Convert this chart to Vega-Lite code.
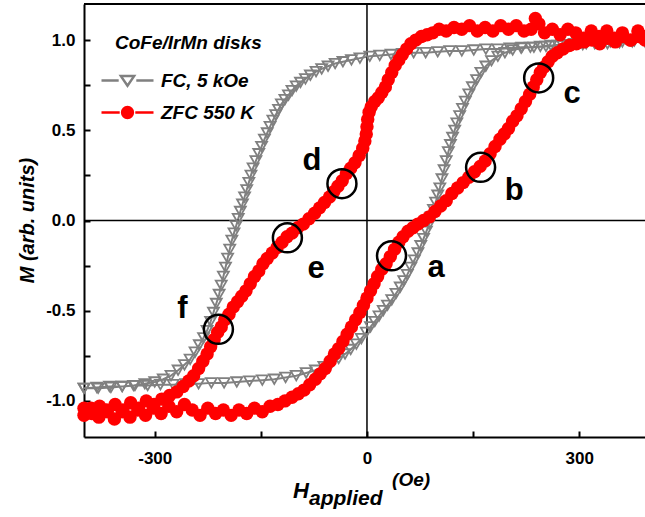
{
  "$schema": "https://vega.github.io/schema/vega-lite/v6.json",
  "width": 561,
  "height": 433,
  "autosize": "none",
  "padding": {"left": 84, "top": 4, "right": 0, "bottom": 80},
  "background": "white",
  "config": {"view": {"stroke": null}, "font": "Liberation Sans"},
  "datasets": {
    "fc": [
      {"H":393,"M":0.99},{"H":375,"M":0.99},{"H":357,"M":0.985},{"H":340,"M":0.98},{"H":322,"M":0.98},{"H":305,"M":0.975},{"H":288,"M":0.97},{"H":270,"M":0.97},{"H":253,"M":0.965},{"H":236,"M":0.96},{"H":219,"M":0.96},{"H":202,"M":0.955},{"H":185,"M":0.95},{"H":168,"M":0.95},{"H":151,"M":0.945},{"H":134,"M":0.94},{"H":117,"M":0.94},{"H":100,"M":0.935},{"H":83,"M":0.93},{"H":66,"M":0.93},{"H":50,"M":0.925},{"H":34,"M":0.92},{"H":18,"M":0.915},{"H":4,"M":0.91},{"H":-10,"M":0.9},{"H":-22,"M":0.89},{"H":-34,"M":0.88},{"H":-45,"M":0.87},{"H":-55,"M":0.855},{"H":-64,"M":0.84},{"H":-72,"M":0.825},{"H":-80,"M":0.805},{"H":-87,"M":0.785},{"H":-94,"M":0.765},{"H":-100,"M":0.745},{"H":-106,"M":0.72},{"H":-111,"M":0.695},{"H":-116,"M":0.67},{"H":-121,"M":0.645},{"H":-125,"M":0.615},{"H":-129,"M":0.585},{"H":-133,"M":0.555},{"H":-137,"M":0.52},{"H":-141,"M":0.485},{"H":-145,"M":0.45},{"H":-149,"M":0.41},{"H":-153,"M":0.37},{"H":-157,"M":0.33},{"H":-161,"M":0.29},{"H":-164,"M":0.25},{"H":-167,"M":0.21},{"H":-170,"M":0.17},{"H":-173,"M":0.13},{"H":-176,"M":0.09},{"H":-179,"M":0.05},{"H":-182,"M":0.01},{"H":-185,"M":-0.03},{"H":-188,"M":-0.07},{"H":-191,"M":-0.11},{"H":-194,"M":-0.16},{"H":-197,"M":-0.21},{"H":-200,"M":-0.26},{"H":-203,"M":-0.31},{"H":-206,"M":-0.36},{"H":-209,"M":-0.41},{"H":-213,"M":-0.46},{"H":-217,"M":-0.51},{"H":-221,"M":-0.56},{"H":-226,"M":-0.61},{"H":-231,"M":-0.65},{"H":-237,"M":-0.69},{"H":-243,"M":-0.73},{"H":-250,"M":-0.77},{"H":-258,"M":-0.8},{"H":-267,"M":-0.83},{"H":-277,"M":-0.86},{"H":-288,"M":-0.88},{"H":-300,"M":-0.895},{"H":-314,"M":-0.905},{"H":-330,"M":-0.915},{"H":-346,"M":-0.92},{"H":-362,"M":-0.925},{"H":-380,"M":-0.93},{"H":-400,"M":-0.93},
      {"H":-400,"M":-0.93},{"H":-382,"M":-0.925},{"H":-364,"M":-0.92},{"H":-346,"M":-0.92},{"H":-328,"M":-0.915},{"H":-310,"M":-0.915},{"H":-292,"M":-0.91},{"H":-274,"M":-0.91},{"H":-256,"M":-0.905},{"H":-238,"M":-0.905},{"H":-220,"M":-0.9},{"H":-202,"M":-0.9},{"H":-184,"M":-0.895},{"H":-166,"M":-0.89},{"H":-148,"M":-0.885},{"H":-131,"M":-0.88},{"H":-115,"M":-0.87},{"H":-100,"M":-0.86},{"H":-86,"M":-0.845},{"H":-73,"M":-0.83},{"H":-61,"M":-0.81},{"H":-50,"M":-0.79},{"H":-40,"M":-0.765},{"H":-31,"M":-0.74},{"H":-23,"M":-0.715},{"H":-15,"M":-0.685},{"H":-8,"M":-0.655},{"H":-1,"M":-0.62},{"H":5,"M":-0.59},{"H":11,"M":-0.56},{"H":17,"M":-0.53},{"H":23,"M":-0.5},{"H":29,"M":-0.47},{"H":35,"M":-0.44},{"H":41,"M":-0.405},{"H":47,"M":-0.37},{"H":52,"M":-0.335},{"H":57,"M":-0.3},{"H":62,"M":-0.26},{"H":67,"M":-0.22},{"H":72,"M":-0.18},{"H":76,"M":-0.14},{"H":80,"M":-0.1},{"H":84,"M":-0.06},{"H":88,"M":-0.02},{"H":91,"M":0.02},{"H":94,"M":0.06},{"H":97,"M":0.1},{"H":100,"M":0.14},{"H":103,"M":0.18},{"H":106,"M":0.23},{"H":109,"M":0.28},{"H":112,"M":0.33},{"H":115,"M":0.38},{"H":118,"M":0.42},{"H":121,"M":0.46},{"H":124,"M":0.5},{"H":127,"M":0.54},{"H":131,"M":0.58},{"H":135,"M":0.62},{"H":139,"M":0.66},{"H":144,"M":0.7},{"H":149,"M":0.74},{"H":155,"M":0.78},{"H":161,"M":0.82},{"H":168,"M":0.855},{"H":176,"M":0.885},{"H":185,"M":0.91},{"H":195,"M":0.93},{"H":206,"M":0.945},{"H":218,"M":0.955},{"H":231,"M":0.96},{"H":245,"M":0.965},{"H":260,"M":0.97},{"H":276,"M":0.975},{"H":293,"M":0.98},{"H":310,"M":0.98},{"H":327,"M":0.985},{"H":344,"M":0.99},{"H":361,"M":0.99},{"H":378,"M":0.995},{"H":393,"M":0.995}
    ],
    "zfc": [
      {"H":393,"M":1.02},{"H":383,"M":1.05},{"H":372,"M":1.0},{"H":361,"M":1.04},{"H":350,"M":1.01},{"H":339,"M":1.05},{"H":328,"M":1.02},{"H":317,"M":1.05},{"H":306,"M":1.01},{"H":295,"M":1.04},{"H":284,"M":1.06},{"H":273,"M":1.03},{"H":262,"M":1.06},{"H":251,"M":1.04},{"H":243,"M":1.09},{"H":238,"M":1.12},{"H":232,"M":1.06},{"H":222,"M":1.05},{"H":211,"M":1.08},{"H":200,"M":1.06},{"H":189,"M":1.08},{"H":178,"M":1.05},{"H":167,"M":1.07},{"H":156,"M":1.05},{"H":145,"M":1.08},{"H":134,"M":1.06},{"H":123,"M":1.07},{"H":112,"M":1.05},{"H":102,"M":1.06},{"H":93,"M":1.04},{"H":85,"M":1.03},{"H":77,"M":1.02},{"H":69,"M":1.0},{"H":62,"M":0.98},{"H":56,"M":0.95},{"H":50,"M":0.92},{"H":45,"M":0.89},{"H":40,"M":0.86},{"H":35,"M":0.82},{"H":30,"M":0.78},{"H":26,"M":0.74},{"H":21,"M":0.71},{"H":16,"M":0.68},{"H":11,"M":0.66},{"H":6,"M":0.63},{"H":3,"M":0.6},{"H":1,"M":0.56},{"H":0,"M":0.52},{"H":-1,"M":0.48},{"H":-3,"M":0.44},{"H":-6,"M":0.4},{"H":-11,"M":0.36},{"H":-17,"M":0.32},{"H":-23,"M":0.29},{"H":-29,"M":0.26},{"H":-35,"M":0.22},{"H":-41,"M":0.19},{"H":-47,"M":0.16},{"H":-53,"M":0.13},{"H":-60,"M":0.1},{"H":-67,"M":0.07},{"H":-74,"M":0.04},{"H":-82,"M":0.01},{"H":-90,"M":-0.02},{"H":-98,"M":-0.04},{"H":-106,"M":-0.07},{"H":-113,"M":-0.09},{"H":-120,"M":-0.12},{"H":-127,"M":-0.15},{"H":-134,"M":-0.18},{"H":-141,"M":-0.21},{"H":-147,"M":-0.24},{"H":-153,"M":-0.28},{"H":-159,"M":-0.31},{"H":-165,"M":-0.35},{"H":-171,"M":-0.39},{"H":-177,"M":-0.42},{"H":-183,"M":-0.45},{"H":-189,"M":-0.48},{"H":-195,"M":-0.52},{"H":-201,"M":-0.55},{"H":-206,"M":-0.59},{"H":-211,"M":-0.62},{"H":-216,"M":-0.66},{"H":-221,"M":-0.7},{"H":-226,"M":-0.74},{"H":-232,"M":-0.78},{"H":-238,"M":-0.82},{"H":-245,"M":-0.86},{"H":-252,"M":-0.89},{"H":-260,"M":-0.92},{"H":-269,"M":-0.95},{"H":-279,"M":-0.97},{"H":-290,"M":-0.99},{"H":-301,"M":-1.02},{"H":-312,"M":-1.0},{"H":-323,"M":-1.04},{"H":-334,"M":-1.01},{"H":-345,"M":-1.05},{"H":-356,"M":-1.02},{"H":-367,"M":-1.06},{"H":-378,"M":-1.03},{"H":-389,"M":-1.07},{"H":-400,"M":-1.04},
      {"H":-400,"M":-1.08},{"H":-390,"M":-1.04},{"H":-379,"M":-1.09},{"H":-368,"M":-1.05},{"H":-357,"M":-1.1},{"H":-346,"M":-1.06},{"H":-335,"M":-1.09},{"H":-324,"M":-1.05},{"H":-313,"M":-1.08},{"H":-302,"M":-1.04},{"H":-291,"M":-1.07},{"H":-280,"M":-1.03},{"H":-269,"M":-1.06},{"H":-258,"M":-1.02},{"H":-247,"M":-1.05},{"H":-236,"M":-1.08},{"H":-225,"M":-1.04},{"H":-214,"M":-1.07},{"H":-203,"M":-1.05},{"H":-192,"M":-1.08},{"H":-181,"M":-1.05},{"H":-170,"M":-1.07},{"H":-159,"M":-1.04},{"H":-148,"M":-1.06},{"H":-137,"M":-1.03},{"H":-126,"M":-1.02},{"H":-116,"M":-1.0},{"H":-106,"M":-0.98},{"H":-97,"M":-0.96},{"H":-89,"M":-0.94},{"H":-81,"M":-0.91},{"H":-73,"M":-0.88},{"H":-66,"M":-0.85},{"H":-59,"M":-0.82},{"H":-52,"M":-0.78},{"H":-46,"M":-0.74},{"H":-40,"M":-0.71},{"H":-34,"M":-0.67},{"H":-28,"M":-0.63},{"H":-22,"M":-0.59},{"H":-16,"M":-0.55},{"H":-10,"M":-0.51},{"H":-5,"M":-0.47},{"H":0,"M":-0.43},{"H":5,"M":-0.39},{"H":10,"M":-0.35},{"H":15,"M":-0.31},{"H":21,"M":-0.27},{"H":27,"M":-0.24},{"H":33,"M":-0.2},{"H":39,"M":-0.16},{"H":45,"M":-0.12},{"H":51,"M":-0.09},{"H":58,"M":-0.06},{"H":65,"M":-0.04},{"H":72,"M":-0.02},{"H":80,"M":0.0},{"H":88,"M":0.02},{"H":96,"M":0.05},{"H":104,"M":0.08},{"H":112,"M":0.11},{"H":120,"M":0.15},{"H":128,"M":0.18},{"H":136,"M":0.21},{"H":144,"M":0.24},{"H":152,"M":0.27},{"H":160,"M":0.3},{"H":167,"M":0.33},{"H":174,"M":0.37},{"H":181,"M":0.41},{"H":188,"M":0.45},{"H":194,"M":0.48},{"H":200,"M":0.51},{"H":206,"M":0.55},{"H":212,"M":0.58},{"H":218,"M":0.62},{"H":224,"M":0.66},{"H":230,"M":0.7},{"H":235,"M":0.74},{"H":240,"M":0.78},{"H":245,"M":0.82},{"H":250,"M":0.85},{"H":256,"M":0.88},{"H":262,"M":0.91},{"H":269,"M":0.93},{"H":277,"M":0.95},{"H":286,"M":0.97},{"H":296,"M":0.98},{"H":307,"M":0.99},{"H":318,"M":1.0},{"H":329,"M":0.98},{"H":340,"M":1.01},{"H":351,"M":0.99},{"H":362,"M":1.02},{"H":373,"M":1.0},{"H":384,"M":1.02},{"H":393,"M":1.0}
    ],
    "ann": [
      {"k":"a","H":34.7,"M":-0.196,"tx":97.6,"ty":-0.312},
      {"k":"b","H":160.6,"M":0.295,"tx":208,"ty":0.115},
      {"k":"c","H":242.7,"M":0.79,"tx":290,"ty":0.653},
      {"k":"d","H":-35.4,"M":0.204,"tx":-77.8,"ty":0.28},
      {"k":"e","H":-112.5,"M":-0.096,"tx":-72,"ty":-0.318},
      {"k":"f","H":-210,"M":-0.603,"tx":-261,"ty":-0.54}
    ],
    "one": [{}]
  },
  "layer": [
    {
      "data": {"name": "fc"},
      "mark": {"type": "line", "color": "#808080", "strokeWidth": 2},
      "encoding": {
        "x": {"field": "H", "type": "quantitative",
          "scale": {"domain": [-400, 393], "nice": false, "zero": false},
          "axis": {"title": null, "values": [-300, -150, 0, 150, 300],
            "labelExpr": "datum.value % 300 === 0 ? replace(format(datum.value, 'd'), '\u2212', '-') : ''",
            "domain": true, "domainColor": "black", "domainWidth": 2,
            "ticks": true, "tickColor": "black", "tickWidth": 2, "tickSize": -6,
            "labelPadding": 19, "labelFont": "Liberation Sans", "labelFontSize": 17, "labelFontWeight": "bold",
            "labelColor": "black", "labelOverlap": false, "labelFlush": false, "grid": false}},
        "y": {"field": "M", "type": "quantitative",
          "scale": {"domain": [-1.2, 1.2], "nice": false, "zero": false},
          "axis": {"title": "M (arb. units)", "values": [-1, -0.75, -0.5, -0.25, 0, 0.25, 0.5, 0.75, 1],
            "labelExpr": "abs(datum.value * 2 - round(datum.value * 2)) < 0.001 ? replace(format(datum.value, '.1f'), '\u2212', '-') : ''",
            "domain": true, "domainColor": "black", "domainWidth": 2,
            "ticks": true, "tickColor": "black", "tickWidth": 2, "tickSize": -6,
            "labelPadding": 15, "labelFont": "Liberation Sans", "labelFontSize": 17, "labelFontWeight": "bold",
            "labelColor": "black", "labelOverlap": false, "labelFlush": false, "grid": false,
            "titleFont": "Liberation Sans", "titleFontSize": 20, "titleFontWeight": "bold", "titleFontStyle": "italic",
            "titleColor": "black", "titleX": -51, "titleY": 216, "titleAngle": -90, "titleAlign": "center", "titleBaseline": "alphabetic"}},
        "order": {"value": null}
      }
    },
    {
      "data": {"name": "one"},
      "mark": {"type": "rule", "color": "black", "strokeWidth": 2},
      "encoding": {"y": {"datum": 1.2, "scale": {"domain": [-1.2, 1.2], "nice": false, "zero": false}}}
    },
    {
      "data": {"name": "one"},
      "mark": {"type": "rule", "color": "black", "strokeWidth": 1.5},
      "encoding": {"y": {"datum": 0, "scale": {"domain": [-1.2, 1.2], "nice": false, "zero": false}}}
    },
    {
      "data": {"name": "one"},
      "mark": {"type": "rule", "color": "black", "strokeWidth": 1.5},
      "encoding": {"x": {"datum": 0, "scale": {"domain": [-400, 393], "nice": false, "zero": false}}}
    },
    {
      "data": {"name": "fc"},
      "mark": {"type": "point", "shape": "triangle-down", "filled": false, "stroke": "#808080", "strokeWidth": 1.8, "size": 120, "opacity": 1},
      "encoding": {
        "x": {"field": "H", "type": "quantitative", "scale": {"domain": [-400, 393], "nice": false, "zero": false}},
        "y": {"field": "M", "type": "quantitative", "scale": {"domain": [-1.2, 1.2], "nice": false, "zero": false}}
      }
    },
    {
      "data": {"name": "zfc"},
      "mark": {"type": "line", "color": "#ff0000", "strokeWidth": 4},
      "encoding": {
        "x": {"field": "H", "type": "quantitative", "scale": {"domain": [-400, 393], "nice": false, "zero": false}},
        "y": {"field": "M", "type": "quantitative", "scale": {"domain": [-1.2, 1.2], "nice": false, "zero": false}},
        "order": {"value": null}
      }
    },
    {
      "data": {"name": "zfc"},
      "mark": {"type": "point", "shape": "circle", "filled": true, "color": "#ff0000", "size": 180, "opacity": 1},
      "encoding": {
        "x": {"field": "H", "type": "quantitative", "scale": {"domain": [-400, 393], "nice": false, "zero": false}},
        "y": {"field": "M", "type": "quantitative", "scale": {"domain": [-1.2, 1.2], "nice": false, "zero": false}}
      }
    },
    {
      "data": {"name": "ann"},
      "mark": {"type": "point", "shape": "circle", "filled": false, "stroke": "black", "strokeWidth": 2.5, "size": 841, "opacity": 1},
      "encoding": {
        "x": {"field": "H", "type": "quantitative", "scale": {"domain": [-400, 393], "nice": false, "zero": false}},
        "y": {"field": "M", "type": "quantitative", "scale": {"domain": [-1.2, 1.2], "nice": false, "zero": false}}
      }
    },
    {
      "data": {"name": "ann"},
      "mark": {"type": "text", "font": "Liberation Sans", "fontSize": 31, "fontWeight": "bold", "color": "black", "align": "center", "baseline": "alphabetic"},
      "encoding": {
        "x": {"field": "tx", "type": "quantitative", "scale": {"domain": [-400, 393], "nice": false, "zero": false}},
        "y": {"field": "ty", "type": "quantitative", "scale": {"domain": [-1.2, 1.2], "nice": false, "zero": false}},
        "text": {"field": "k"}
      }
    },
    {
      "data": {"name": "one"},
      "mark": {"type": "text", "text": "H", "font": "Liberation Sans", "fontSize": 22, "fontWeight": "bold", "fontStyle": "italic", "color": "black", "align": "left", "baseline": "alphabetic"},
      "encoding": {
        "x": {"datum": -104.6, "scale": {"domain": [-400, 393], "nice": false, "zero": false}},
        "y": {"datum": -1.538, "scale": {"domain": [-1.2, 1.2], "nice": false, "zero": false}}
      }
    },
    {
      "data": {"name": "one"},
      "mark": {"type": "text", "text": "applied", "font": "Liberation Sans", "fontSize": 21, "fontWeight": "bold", "fontStyle": "italic", "color": "black", "align": "left", "baseline": "alphabetic"},
      "encoding": {
        "x": {"datum": -82, "scale": {"domain": [-400, 393], "nice": false, "zero": false}},
        "y": {"datum": -1.577, "scale": {"domain": [-1.2, 1.2], "nice": false, "zero": false}}
      }
    },
    {
      "data": {"name": "one"},
      "mark": {"type": "text", "text": "(Oe)", "font": "Liberation Sans", "fontSize": 19, "fontWeight": "bold", "fontStyle": "italic", "color": "black", "align": "left", "baseline": "alphabetic"},
      "encoding": {
        "x": {"datum": 35.5, "scale": {"domain": [-400, 393], "nice": false, "zero": false}},
        "y": {"datum": -1.472, "scale": {"domain": [-1.2, 1.2], "nice": false, "zero": false}}
      }
    },
    {
      "data": {"name": "fc"},
      "transform": [{"filter": "false"}],
      "mark": {"type": "point", "filled": true, "opacity": 1, "strokeWidth": 2.5},
      "encoding": {
        "x": {"field": "H", "type": "quantitative", "scale": {"domain": [-400, 393], "nice": false, "zero": false}},
        "y": {"field": "M", "type": "quantitative", "scale": {"domain": [-1.2, 1.2], "nice": false, "zero": false}},
        "shape": {"field": "s", "type": "nominal",
          "scale": {"domain": ["FC, 5 kOe", "ZFC 550 K"], "range": ["M-1.3,0L-0.44,0M0.44,0L1.3,0M-0.33,-0.22L0.33,-0.22L0,0.26Z", "M-1.3,0L-0.39,0M0.39,0L1.3,0M-0.27,0A0.27,0.27,0,1,0,0.27,0A0.27,0.27,0,1,0,-0.27,0Z"]},
          "legend": {"title": "CoFe/IrMn disks", "orient": "none", "legendX": 31, "legendY": 30, "padding": 0,
            "symbolSize": 1600, "symbolStrokeWidth": 2.5, "symbolOffset": -9, "labelOffset": 12,
            "titleFont": "Liberation Sans", "titleFontSize": 19, "titleFontWeight": "bold", "titleFontStyle": "italic", "titleColor": "black", "titlePadding": 6,
            "labelFont": "Liberation Sans", "labelFontSize": 19, "labelFontWeight": "bold", "labelFontStyle": "italic", "labelColor": "black", "rowPadding": 0, "labelLimit": 300}},
        "stroke": {"field": "s", "type": "nominal",
          "scale": {"domain": ["FC, 5 kOe", "ZFC 550 K"], "range": ["#808080", "#ff0000"]},
          "legend": {"title": "CoFe/IrMn disks", "orient": "none", "legendX": 31, "legendY": 30, "padding": 0,
            "symbolSize": 1600, "symbolStrokeWidth": 2.5, "symbolOffset": -9, "labelOffset": 12,
            "titleFont": "Liberation Sans", "titleFontSize": 19, "titleFontWeight": "bold", "titleFontStyle": "italic", "titleColor": "black", "titlePadding": 6,
            "labelFont": "Liberation Sans", "labelFontSize": 19, "labelFontWeight": "bold", "labelFontStyle": "italic", "labelColor": "black", "rowPadding": 0, "labelLimit": 300}},
        "fill": {"field": "s", "type": "nominal",
          "scale": {"domain": ["FC, 5 kOe", "ZFC 550 K"], "range": ["transparent", "#ff0000"]},
          "legend": {"title": "CoFe/IrMn disks", "orient": "none", "legendX": 31, "legendY": 30, "padding": 0,
            "symbolSize": 1600, "symbolStrokeWidth": 2.5, "symbolOffset": -9, "labelOffset": 12,
            "titleFont": "Liberation Sans", "titleFontSize": 19, "titleFontWeight": "bold", "titleFontStyle": "italic", "titleColor": "black", "titlePadding": 6,
            "labelFont": "Liberation Sans", "labelFontSize": 19, "labelFontWeight": "bold", "labelFontStyle": "italic", "labelColor": "black", "rowPadding": 0, "labelLimit": 300}}
      }
    }
  ]
}
